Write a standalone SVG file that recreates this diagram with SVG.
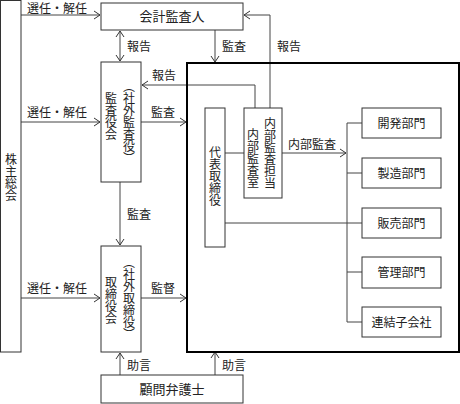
<svg xmlns="http://www.w3.org/2000/svg" width="460" height="404" viewBox="0 0 460 404">
<defs>
<style>
text{font-family:"Noto Sans CJK JP","Noto Sans",sans-serif;fill:#222;font-size:12px}
.box{fill:#fff;stroke:#333;stroke-width:1}
.big{fill:none;stroke:#000;stroke-width:2}
.ln{fill:none;stroke:#444;stroke-width:1}
.arr{marker-end:url(#ah)}
.v{writing-mode:vertical-rl;text-anchor:middle}
.c{text-anchor:middle}
.t13{font-size:13px}
</style>
<marker id="ah" markerWidth="8" markerHeight="10" refX="7" refY="5" orient="auto" markerUnits="userSpaceOnUse">
<path d="M1,1 L7,5 L1,9" fill="none" stroke="#333" stroke-width="1"/>
</marker>
<marker id="as" markerWidth="8" markerHeight="10" refX="1" refY="5" orient="auto" markerUnits="userSpaceOnUse">
<path d="M7,1 L1,5 L7,9" fill="none" stroke="#333" stroke-width="1"/>
</marker>
</defs>
<rect width="460" height="404" fill="#fff"/>

<g id="connectors">
<path class="ln arr" d="M21,15 H100"/>
<path class="ln arr" d="M21,122 H100"/>
<path class="ln arr" d="M21,298 H100"/>
<path class="ln" d="M120,31 V61" marker-start="url(#as)" marker-end="url(#ah)"/>
<path class="ln arr" d="M215,30 V62"/>
<path class="ln arr" d="M270,108 V15 H244"/>
<path class="ln arr" d="M255,108 V85 H142"/>
<path class="ln arr" d="M141,122 H186"/>
<path class="ln arr" d="M120,182 V245"/>
<path class="ln arr" d="M141,298 H186"/>
<path class="ln arr" d="M120,375 V353"/>
<path class="ln arr" d="M215,375 V352"/>
<path class="ln" d="M225,153 H244"/>
<path class="ln arr" d="M282,153 H346"/>
<path class="ln" d="M347,123 V322"/>
<path class="ln" d="M347,123 H362 M347,173 H362 M347,272 H362 M347,322 H362"/>
<path class="ln" d="M225,223 H362"/>
<text x="27" y="13">選任・解任</text>
<text x="27" y="117">選任・解任</text>
<text x="27" y="293">選任・解任</text>
<text x="127" y="51">報告</text>
<text x="222" y="51">監査</text>
<text x="277" y="51">報告</text>
<text x="152" y="80">報告</text>
<text x="151" y="117">監査</text>
<text x="127" y="219">監査</text>
<text x="288" y="149">内部監査</text>
<text x="151" y="293">監督</text>
<text x="127" y="370">助言</text>
<text x="222" y="370">助言</text>
</g>

<g id="shareholders">
<rect class="box" x="0.5" y="0.5" width="20.5" height="351.5"/>
<text class="v" x="11" y="177">株主総会</text>
</g>

<g id="accounting-auditor">
<rect class="box" x="101" y="3" width="142" height="27"/>
<text class="c t13" x="172" y="21">会計監査人</text>
</g>

<g id="audit-board">
<rect class="box" x="101" y="62" width="40" height="120"/>
<text class="v" x="111" y="116">監査役会</text>
<text class="v" x="129" y="122">（社外監査役）</text>
</g>

<g id="board">
<rect class="box" x="101" y="246" width="40" height="106"/>
<text class="v" x="111" y="300">取締役会</text>
<text class="v" x="129" y="298">（社外取締役）</text>
</g>

<g id="lawyer">
<rect class="box" x="101" y="375" width="142" height="28"/>
<text class="c t13" x="172" y="394">顧問弁護士</text>
</g>

<g id="company">
<rect class="big" x="187" y="63" width="272" height="289"/>
</g>

<g id="ceo">
<rect class="box" x="205" y="108" width="20" height="139"/>
<text class="v" x="215" y="176">代表取締役</text>
</g>

<g id="internal-audit">
<rect class="box" x="244" y="108" width="38" height="90"/>
<text class="v" x="253" y="158">内部監査室</text>
<text class="v" x="270" y="153">内部監査担当</text>
</g>

<g id="dev">
<rect class="box" x="362" y="108" width="79" height="30"/>
<text class="c" x="401.5" y="128">開発部門</text>
</g>
<g id="mfg">
<rect class="box" x="362" y="158" width="79" height="30"/>
<text class="c" x="401.5" y="178">製造部門</text>
</g>
<g id="sales">
<rect class="box" x="362" y="208" width="79" height="30"/>
<text class="c" x="401.5" y="228">販売部門</text>
</g>
<g id="admin">
<rect class="box" x="362" y="257" width="79" height="31"/>
<text class="c" x="401.5" y="277">管理部門</text>
</g>
<g id="subsidiaries">
<rect class="box" x="362" y="307" width="79" height="30"/>
<text class="c" x="401.5" y="327">連結子会社</text>
</g>
</svg>
